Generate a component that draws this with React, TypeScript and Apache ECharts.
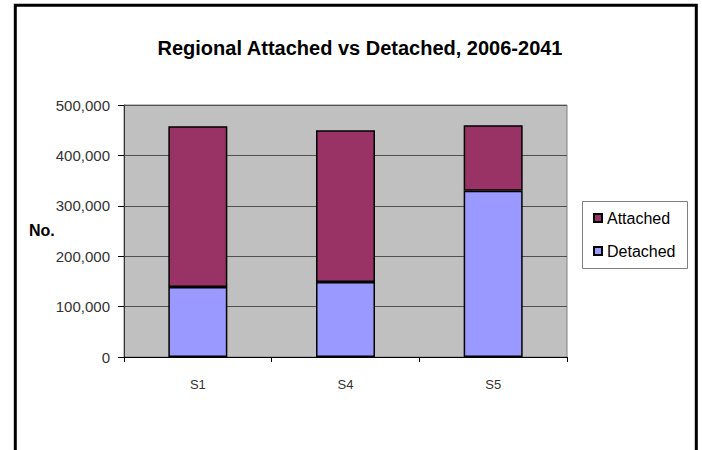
import React, { useEffect, useRef } from "react";
import * as echarts from "echarts";

const categories = ["S1", "S4", "S5"];
const detached = [139000, 149000, 330000];
const attached = [319000, 301000, 130000];
const yTicks = [0, 100000, 200000, 300000, 400000, 500000];
const seriesNames = ["Attached", "Detached"];
const titleText = "Regional Attached vs Detached, 2006-2041";
const yAxisTitle = "No.";

export default function App() {
  const ref = useRef<HTMLDivElement>(null);
  useEffect(() => {
    if (!ref.current) return;
    const chart = echarts.init(ref.current, null, { renderer: "svg" });
    const font = "Arial, 'Liberation Sans', sans-serif";
    chart.setOption({
      animation: false,
      backgroundColor: "#ffffff",
      title: {
        text: titleText,
        left: 355,
        top: 33,
        textAlign: "center",
        textStyle: { fontFamily: font, fontSize: 20, fontWeight: "bold", color: "#000" },
      },
      grid: {
        left: 124,
        top: 105,
        width: 443,
        height: 252,
        show: true,
        backgroundColor: "#C0C0C0",
        borderColor: "#808080",
        borderWidth: 1,
      },
      legend: {
        data: seriesNames,
        orient: "vertical",
        left: 593,
        top: 210,
        padding: 0,
        itemWidth: 8,
        itemHeight: 8,
        itemGap: 17,
        itemTextGap: 4,
        icon: "rect",
        z: 10,
        textStyle: { fontFamily: font, fontSize: 16, color: "#000", lineHeight: 16 },
      },
      xAxis: {
        type: "category",
        data: categories,
        axisLine: { show: true, lineStyle: { color: "#000", width: 1 } },
        axisTick: { show: true, alignWithLabel: false, length: 5, lineStyle: { color: "#000" } },
        axisLabel: { margin: 21, fontFamily: font, fontSize: 13, color: "#333" },
      },
      yAxis: {
        type: "value",
        min: yTicks[0],
        max: yTicks[yTicks.length - 1],
        interval: yTicks[1] - yTicks[0],
        axisLine: { show: true, lineStyle: { color: "#333", width: 1 } },
        axisTick: { show: true, length: 6, lineStyle: { color: "#000" } },
        splitLine: { show: true, lineStyle: { color: "#505050", width: 1 } },
        axisLabel: {
          margin: 14,
          fontFamily: font,
          fontSize: 15,
          color: "#333",
          formatter: (v: number) => v.toLocaleString("en-US"),
        },
      },
      series: [
        {
          name: "Detached",
          type: "bar",
          stack: "total",
          data: detached,
          barWidth: 59,
          itemStyle: { color: "#9999FF", borderColor: "#000", borderWidth: 1.5 },
        },
        {
          name: "Attached",
          type: "bar",
          stack: "total",
          data: attached,
          barWidth: 59,
          itemStyle: { color: "#993366", borderColor: "#000", borderWidth: 1.5 },
        },
      ],
      graphic: [
        {
          type: "polyline",
          z: 0,
          shape: { points: [[15.3, 450], [15.3, 5.3], [696.3, 5.3], [696.3, 450]] },
          style: { stroke: "#000", lineWidth: 3, fill: "none" },
        },
        {
          type: "rect",
          z: 1,
          shape: { x: 582.5, y: 201.5, width: 105, height: 67 },
          style: { fill: "#fff", stroke: "#808080", lineWidth: 1 },
        },
        {
          type: "text",
          z: 5,
          x: 29,
          y: 230,
          style: {
            text: yAxisTitle,
            font: `bold 16px ${font}`,
            fill: "#000",
            textVerticalAlign: "middle",
            verticalAlign: "middle",
          },
        },
      ],
    });
    return () => chart.dispose();
  }, []);
  return (
    <div
      ref={ref}
      style={{ position: "absolute", left: 0, top: 0, width: 702, height: 450 }}
    />
  );
}
